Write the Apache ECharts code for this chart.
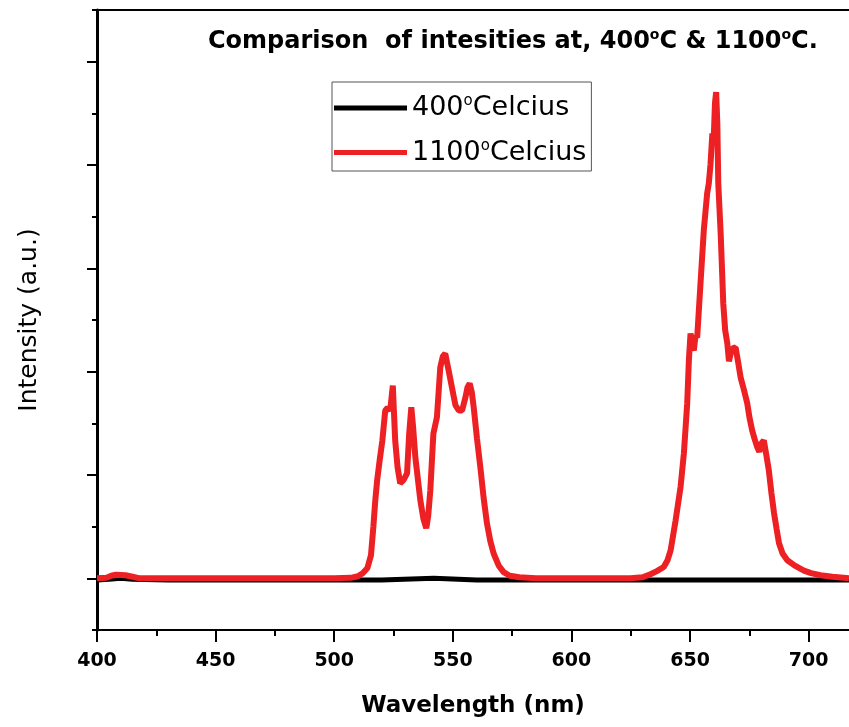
<!DOCTYPE html>
<html>
<head>
<meta charset="utf-8">
<script src="https://cdn.jsdelivr.net/npm/echarts@6/dist/echarts.min.js"></script>
<style>html,body{margin:0;padding:0;background:#fff}#c{width:849px;height:727px}</style>
</head>
<body>
<div id="c"></div>
<script>
// ---- data ----
const xMajorTicks = [400, 450, 500, 550, 600, 650, 700];
const xMinorTicks = [425, 475, 525, 575, 625, 675];
const yMajorTicks = [0, 2, 4, 6, 8, 10];
const yMinorTicks = [-1, 1, 3, 5, 7, 9, 11];

const seriesNames = ['400 Celcius', '1100 Celcius'];

const blackWavelength = [400, 405, 410, 415, 430, 470, 500, 520, 542, 560, 600, 640, 670, 700, 717];
const blackIntensity  = [-0.03, -0.02, 0.0, -0.02, -0.03, -0.03, -0.03, -0.03, 0.0, -0.03, -0.03, -0.03, -0.03, -0.03, -0.03];

const redWavelength = [400, 404, 406, 408, 412, 415, 418, 450, 500, 507, 510, 512, 514, 515.5, 516.5, 517.3, 518.1, 519.2, 520.3, 521.5, 522.5, 523.6, 524.7, 525.7, 526.7, 527.8, 529.2, 530.7, 531.6, 532.5, 533.3, 534.2, 536.3, 537.6, 538.8, 539.6, 540.5, 541.8, 543.3, 544.0, 544.7, 545.8, 546.8, 548.2, 549.6, 551.1, 552.5, 553.9, 555.3, 556.2, 557.1, 558.0, 558.8, 560.2, 561.6, 563.0, 564.4, 565.8, 567.2, 569.3, 571.4, 574, 578, 585, 600, 625, 630, 633.3, 636, 638.9, 640.5, 641.8, 643.9, 646, 647.4, 648.8, 649.5, 650.2, 650.9, 651.6, 652.3, 653, 654.4, 655.8, 657.2, 657.9, 658.6, 659.4, 660, 660.5, 661.0, 661.5, 661.9, 662.9, 664, 664.8, 665.7, 666.4, 667.1, 668, 669.2, 670.2, 671.3, 672.7, 674.1, 675.1, 676.2, 677.2, 678.3, 679.2, 680.2, 681.1, 682.1, 683.2, 684.3, 685.4, 686.5, 687.5, 689, 691, 694, 698, 701, 705, 710, 717];
const redIntensity  = [0, 0.01, 0.05, 0.07, 0.06, 0.03, 0, 0, 0, 0.01, 0.04, 0.1, 0.2, 0.45, 1.0, 1.5, 1.9, 2.3, 2.67, 3.25, 3.3, 3.25, 3.73, 2.67, 2.15, 1.84, 1.9, 2.03, 2.8, 3.31, 2.9, 2.34, 1.51, 1.15, 0.97, 1.2, 1.7, 2.8, 3.12, 3.6, 4.08, 4.3, 4.35, 4.03, 3.7, 3.35, 3.25, 3.25, 3.5, 3.7, 3.77, 3.6, 3.31, 2.7, 2.15, 1.55, 1.06, 0.72, 0.48, 0.25, 0.12, 0.05, 0.02, 0, 0, 0, 0.02, 0.08, 0.14, 0.22, 0.35, 0.54, 1.12, 1.77, 2.42, 3.39, 4.22, 4.74, 4.5, 4.41, 4.7, 4.66, 5.71, 6.74, 7.45, 7.64, 8.0, 8.61, 8.54, 9.2, 9.41, 8.8, 7.64, 6.68, 5.32, 4.8, 4.55, 4.2, 4.35, 4.45, 4.47, 4.2, 3.89, 3.65, 3.39, 3.1, 2.86, 2.7, 2.54, 2.45, 2.62, 2.67, 2.4, 2.09, 1.65, 1.26, 0.95, 0.68, 0.48, 0.35, 0.25, 0.15, 0.1, 0.06, 0.03, 0];

// ---- chart ----
const zip = (xs, ys) => xs.map((x, i) => [x, ys[i]]);
const F = 'DejaVu Sans';
const chart = echarts.init(document.getElementById('c'), null, {renderer: 'canvas'});

const noSplit = {show: false};
chart.setOption({
  animation: false,
  backgroundColor: '#fff',
  title: {
    text: '{a|Comparison  of intesities at, 400}{s|o}{a|C & 1100}{s|o}{a|C.}',
    left: 203, top: 23,
    textStyle: {
      rich: {
        a: {fontFamily: F, fontWeight: 'bold', fontSize: 24, color: '#000', lineHeight: 28},
        s: {fontFamily: F, fontSize: 14, color: '#000', lineHeight: 14, verticalAlign: 'top'}
      }
    }
  },
  legend: {
    orient: 'vertical',
    left: 332, top: 82,
    padding: [12, 5, 5, 2],
    itemGap: 17,
    itemWidth: 73, itemHeight: 5,
    icon: 'rect',
    borderColor: '#555', borderWidth: 1,
    data: seriesNames,
    formatter: function (name) {
      const parts = name.split(' ');
      return '{n|' + parts[0] + '}{s|o}{n|' + parts[1] + '}';
    },
    textStyle: {
      rich: {
        n: {fontFamily: F, fontSize: 27, color: '#000', lineHeight: 28},
        s: {fontFamily: F, fontSize: 15, color: '#000', lineHeight: 14, verticalAlign: 'top'}
      }
    }
  },
  grid: {left: 97, right: 0, top: 10, bottom: 97},
  xAxis: [
    {
      type: 'value', position: 'bottom', min: 400, max: 717,
      axisLine: {show: true, onZero: false, lineStyle: {color: '#000', width: 2}},
      axisTick: {show: true, customValues: xMajorTicks, length: 12, lineStyle: {color: '#000', width: 2}},
      axisLabel: {show: true, customValues: xMajorTicks, margin: 22, fontFamily: F, fontWeight: 'bold', fontSize: 19, color: '#000'},
      splitLine: noSplit,
      name: 'Wavelength (nm)', nameLocation: 'middle', nameGap: 65,
      nameTextStyle: {fontFamily: F, fontWeight: 'bold', fontSize: 23, color: '#000'}
    },
    {
      type: 'value', position: 'bottom', min: 400, max: 717,
      axisLine: {show: false, onZero: false},
      axisTick: {show: true, customValues: xMinorTicks, length: 6, lineStyle: {color: '#000', width: 2}},
      axisLabel: {show: false},
      splitLine: noSplit
    },
    {
      type: 'value', position: 'top', min: 400, max: 717,
      axisLine: {show: true, onZero: false, lineStyle: {color: '#000', width: 2}},
      axisTick: {show: false},
      axisLabel: {show: false},
      splitLine: noSplit
    }
  ],
  yAxis: [
    {
      type: 'value', position: 'left', min: -1, max: 11,
      axisLine: {show: true, onZero: false, lineStyle: {color: '#000', width: 3}},
      axisTick: {show: true, customValues: yMajorTicks, length: 10, lineStyle: {color: '#000', width: 2}},
      axisLabel: {show: false},
      splitLine: noSplit,
      name: 'Intensity (a.u.)', nameLocation: 'middle', nameGap: 55, nameRotate: 90,
      nameTextStyle: {fontFamily: F, fontSize: 25, color: '#000'}
    },
    {
      type: 'value', position: 'left', min: -1, max: 11,
      axisLine: {show: false, onZero: false},
      axisTick: {show: true, customValues: yMinorTicks, length: 5, lineStyle: {color: '#000', width: 2}},
      axisLabel: {show: false},
      splitLine: noSplit
    }
  ],
  series: [
    {
      name: seriesNames[0], type: 'line', xAxisIndex: 0, yAxisIndex: 0,
      data: zip(blackWavelength, blackIntensity),
      showSymbol: false, symbol: 'none',
      color: '#000',
      lineStyle: {color: '#000', width: 5},
      z: 2
    },
    {
      name: seriesNames[1], type: 'line', xAxisIndex: 0, yAxisIndex: 0,
      data: zip(redWavelength, redIntensity),
      showSymbol: false, symbol: 'none',
      color: '#ed2024',
      lineStyle: {color: '#ed2024', width: 6},
      z: 3
    }
  ]
});
</script>
</body>
</html>
